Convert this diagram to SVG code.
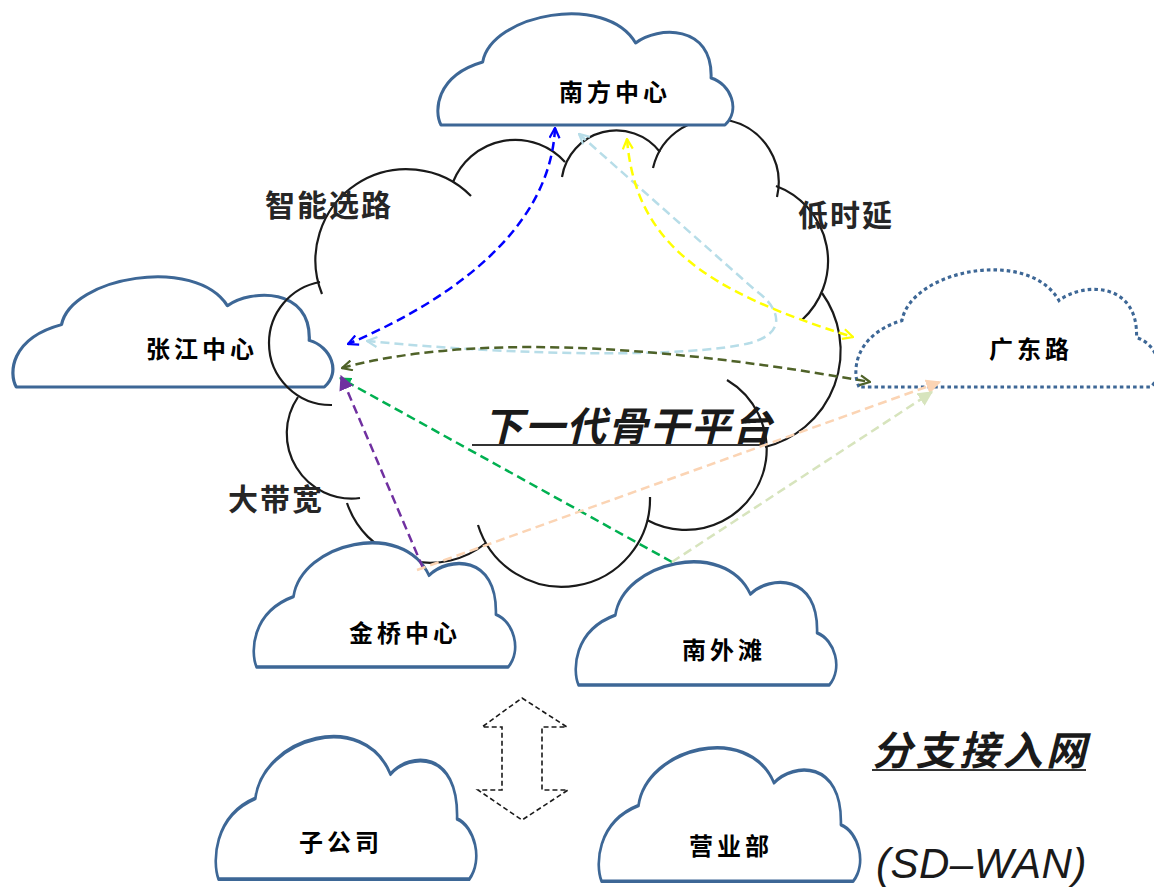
<svg xmlns="http://www.w3.org/2000/svg" width="1154" height="888" viewBox="0 0 1154 888">
<defs>
<style>
.cl{fill:#fff;stroke:#3D6796;stroke-width:3;vector-effect:non-scaling-stroke;stroke-linejoin:round}
.dot{fill:#fff;stroke:#3D6796;stroke-width:3;stroke-dasharray:3.5 3;vector-effect:non-scaling-stroke}
.big{fill:none;stroke:#1a1a1a;stroke-width:2.2}
.lb{font-family:"Noto Sans CJK SC","Noto Sans",sans-serif;font-weight:700;font-size:24px;letter-spacing:4px;fill:#000}
.rg{font-family:"Noto Sans CJK SC","Noto Sans",sans-serif;font-weight:700;font-size:30px;letter-spacing:2px;fill:#262626}
.ti{font-family:"Noto Sans CJK SC","Noto Sans",sans-serif;font-weight:700;font-style:italic;font-size:40px;fill:#1a1a1a}
.c{fill:none;stroke-width:2.5;stroke-dasharray:9 5}
</style>
<path id="cloud" d="M4 111 C-3 98 -2 62 46 48 C55 0 170 -22 200 29 C222 12 278 10 276 64 C296 70 306 96 290 111 Z"/>
<marker id="aBlue" viewBox="0 0 12 12" refX="11" refY="6" markerWidth="12" markerHeight="12" markerUnits="userSpaceOnUse" orient="auto-start-reverse"><path d="M1 1 L11 6 L1 11" fill="none" stroke="#0000FF" stroke-width="2.2"/></marker>
<marker id="aLb" viewBox="0 0 12 12" refX="11" refY="6" markerWidth="12" markerHeight="12" markerUnits="userSpaceOnUse" orient="auto-start-reverse"><path d="M1 1 L11 6 L1 11" fill="none" stroke="#B7DDE8" stroke-width="2.2"/></marker>
<marker id="aYel" viewBox="0 0 12 12" refX="11" refY="6" markerWidth="12" markerHeight="12" markerUnits="userSpaceOnUse" orient="auto-start-reverse"><path d="M1 1 L11 6 L1 11" fill="none" stroke="#FFFF00" stroke-width="2.2"/></marker>
<marker id="aOl" viewBox="0 0 12 12" refX="11" refY="6" markerWidth="12" markerHeight="12" markerUnits="userSpaceOnUse" orient="auto-start-reverse"><path d="M1 1 L11 6 L1 11" fill="none" stroke="#4F6228" stroke-width="2.2"/></marker>
<marker id="tGr" viewBox="0 0 12 12" refX="11" refY="6" markerWidth="12" markerHeight="12" markerUnits="userSpaceOnUse" orient="auto"><path d="M0 0 L12 6 L0 12 Z" fill="#00B050"/></marker>
<marker id="tPu" viewBox="0 0 12 12" refX="11" refY="6" markerWidth="15" markerHeight="15" markerUnits="userSpaceOnUse" orient="auto"><path d="M0 0 L12 6 L0 12 Z" fill="#7030A0"/></marker>
<marker id="tPe" viewBox="0 0 12 12" refX="11" refY="6" markerWidth="15" markerHeight="15" markerUnits="userSpaceOnUse" orient="auto"><path d="M0 0 L12 6 L0 12 Z" fill="#FBD4B4"/></marker>
<marker id="tLg" viewBox="0 0 12 12" refX="11" refY="6" markerWidth="15" markerHeight="15" markerUnits="userSpaceOnUse" orient="auto"><path d="M0 0 L12 6 L0 12 Z" fill="#D7E4BD"/></marker>
</defs>
<rect width="1154" height="888" fill="#fff"/>

<g id="zhangjiang">
<use href="#cloud" class="cl" transform="translate(12 277) scale(1.077 0.991)"/>
<text class="lb" x="146" y="358">张江中心</text>
</g>

<g id="backbone">
<path class="big" d="M322 294 A91 91 0 0 1 471 196"/>
<path class="big" d="M453 182 A67 67 0 0 1 565 162"/>
<path class="big" d="M562 177 A55 55 0 0 1 660 152"/>
<path class="big" d="M653 168 A63 63 0 0 1 777 197"/>
<path class="big" d="M776 186 A80 80 0 0 1 802 320"/>
<path class="big" d="M822 293 A99 99 0 0 1 765 447"/>
<path class="big" d="M727 380 A81 81 0 0 1 766 460 A81 81 0 0 1 647 520"/>
<path class="big" d="M650 497 A88 88 0 0 1 478 525"/>
<path class="big" d="M486 543 A88 88 0 0 1 347 503"/>
<path class="big" d="M360 498 A65 65 0 0 1 298 397"/>
<path class="big" d="M332 405 A62 62 0 0 1 269 343 A62 62 0 0 1 320 282"/>
<text class="ti" x="483" y="441" letter-spacing="1.5">下一代骨干平台</text>
<line x1="472" y1="445" x2="765" y2="445" stroke="#333" stroke-width="2"/>
</g>

<g id="labels">
<text class="rg" x="265" y="216">智能选路</text>
<text class="rg" x="798" y="226">低时延</text>
<text class="rg" x="228" y="510">大带宽</text>
</g>

<g id="nanfang">
<use href="#cloud" class="cl" transform="translate(437 14) scale(0.993 1)"/>
<text class="lb" x="559" y="101">南方中心</text>
</g>

<g id="guangdong">
<use href="#cloud" class="dot" transform="translate(855 270) scale(1.02 1.054)"/>
<text class="lb" x="989" y="358">广东路</text>
</g>

<g id="jinqiao">
<use href="#cloud" class="cl" transform="translate(253 543) scale(0.88 1.117)"/>
<text class="lb" x="349" y="642">金桥中心</text>
</g>

<g id="nanwaitan">
<use href="#cloud" class="cl" transform="translate(575 562) scale(0.877 1.108)"/>
<text class="lb" x="682" y="659">南外滩</text>
</g>

<g id="zigongsi">
<use href="#cloud" class="cl" transform="translate(215 737) scale(0.877 1.28)"/>
<text class="lb" x="299" y="851">子公司</text>
</g>

<g id="yingyebu">
<use href="#cloud" class="cl" transform="translate(598 748) scale(0.88 1.2)"/>
<text class="lb" x="689" y="855">营业部</text>
</g>

<g id="branch">
<path d="M522 698 L567 727 L542 727 L542 790 L568 790 L522 820 L478 790 L502 790 L502 727 L482 727 Z" fill="none" stroke="#1a1a1a" stroke-width="1.6" stroke-dasharray="5 3"/>
<text class="ti" x="872" y="765" letter-spacing="3.5">分支接入网</text>
<line x1="872" y1="770" x2="1086" y2="770" stroke="#333" stroke-width="2"/>
<text x="876" y="878" font-family="Liberation Sans, Arial, sans-serif" font-style="italic" font-size="42" letter-spacing="0.5" fill="#1a1a1a">(SD–WAN)</text>
</g>

<g id="connectors">
<path class="c" stroke="#0000FF" d="M555 128 C550 235 440 305 348 344" marker-start="url(#aBlue)" marker-end="url(#aBlue)"/>
<path class="c" stroke="#B7DDE8" d="M579 134 L755 290 C778 306 790 332 750 343 C690 358 520 356 367 341" marker-start="url(#aLb)" marker-end="url(#aLb)"/>
<path class="c" stroke="#FFFF00" d="M627 139 C635 240 700 290 853 337" marker-start="url(#aYel)" marker-end="url(#aYel)"/>
<path class="c" stroke="#4F6228" d="M342 368 Q520 320 870 382" marker-start="url(#aOl)" marker-end="url(#aOl)"/>
<path class="c" stroke="#00B050" d="M672 562 L340 378" marker-end="url(#tGr)"/>
<path class="c" stroke="#7030A0" d="M423 568 L341 376" marker-end="url(#tPu)"/>
<path class="c" stroke="#FBD4B4" d="M417 570 L940 382" marker-end="url(#tPe)"/>
<path class="c" stroke="#D7E4BD" d="M672 562 L932 392" marker-end="url(#tLg)"/>
</g>
</svg>
